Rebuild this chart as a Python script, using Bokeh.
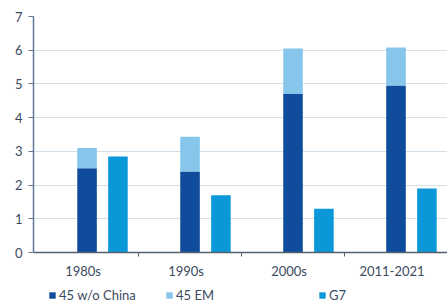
import math
from bokeh.plotting import figure
from bokeh.models import (Range1d, LinearAxis, FixedTicker, Legend, LegendItem,
                          ColumnDataSource, Grid, Span)
from bokeh.core.properties import value
from bokeh.embed import file_html
from bokeh.resources import INLINE

categories = ["1980s", "1990s", "2000s", "2011-2021"]
em_wo_china = [2.5, 2.4, 4.7, 4.95]
em_45 = [3.1, 3.43, 6.05, 6.08]
g7 = [2.85, 1.7, 1.3, 1.9]

DARK = "#0f4c9c"
LIGHT = "#85c6ea"
MID = "#0b98d9"
TEXT = "#3b4a5e"
AXIS = "#55606e"
FONT = "Lato"

idx = list(range(len(categories)))
src = ColumnDataSource(dict(
    x_main=[i + 0.5 for i in idx],
    x_g7=[i + 0.8 for i in idx],
    dark=em_wo_china,
    em=em_45,
    g7=g7,
    zero=[0] * len(idx),
    cat=categories,
))

# frame spans from the top value (7) down to the bottom of the figure so the
# legend can live inside it below the category labels
p = figure(width=447, height=308, output_backend="svg", toolbar_location=None,
           x_range=Range1d(-0.02, 4.0), y_range=Range1d(-1.661, 7),
           x_axis_type=None, y_axis_type=None,
           min_border_left=33, min_border_right=0, min_border_top=16,
           min_border_bottom=0)
p.outline_line_color = None
p.background_fill_color = "white"
p.border_fill_color = "white"

g = Grid(dimension=1, ticker=FixedTicker(ticks=list(range(1, 8))),
         grid_line_color="#d3e0ea", grid_line_width=1)
p.add_layout(g, "center")

r_dark = p.vbar(x="x_main", bottom="zero", top="dark", width=0.19, source=src,
                fill_color=DARK, line_color=None)
r_light = p.vbar(x="x_main", bottom="dark", top="em", width=0.19, source=src,
                 fill_color=LIGHT, line_color=None)
r_g7 = p.vbar(x="x_g7", bottom="zero", top="g7", width=0.19, source=src,
              fill_color=MID, line_color=None)

# x axis line at zero
p.add_layout(Span(location=0, dimension="width", line_color=AXIS,
                  line_width=1.5))
# small ticks at category boundaries
p.ray(x=[i for i in idx[1:]], y=[0] * (len(idx) - 1), length=4,
      length_units="screen", angle=-math.pi / 2, line_color=AXIS,
      line_width=1)
# category labels
p.text(x="x_main", y="zero", text="cat", source=src, x_offset=-4, y_offset=18,
       text_align="center", text_baseline="middle",
       text_font=value(FONT), text_font_size="13px", text_color=TEXT)

# y axis
yaxis = LinearAxis(ticker=FixedTicker(ticks=list(range(0, 8))), bounds=(0, 7))
yaxis.axis_line_color = "#5f7896"
yaxis.axis_line_width = 1.5
yaxis.major_tick_line_color = "#5f7896"
yaxis.major_tick_out = 5
yaxis.major_tick_in = 0
yaxis.minor_tick_line_color = None
yaxis.major_label_text_font = FONT
yaxis.major_label_text_font_size = "13px"
yaxis.major_label_text_color = TEXT
yaxis.major_label_standoff = 6
p.add_layout(yaxis, "left")


def make_legend(label, rend, loc):
    lg = Legend(items=[LegendItem(label=label, renderers=[rend])],
                location=loc, orientation="horizontal")
    lg.background_fill_alpha = 0
    lg.border_line_color = None
    lg.padding = 0
    lg.margin = 0
    lg.glyph_width = 8
    lg.glyph_height = 8
    lg.label_standoff = 3
    lg.label_text_font = FONT
    lg.label_text_font_size = "13px"
    lg.label_text_color = TEXT
    p.add_layout(lg, "center")


make_legend("45 w/o China", r_dark, (15, 5))
make_legend("45 EM", r_light, (132, 5))
make_legend("G7", r_g7, (285, 5))

open("out.html", "w").write(file_html(p, INLINE))
